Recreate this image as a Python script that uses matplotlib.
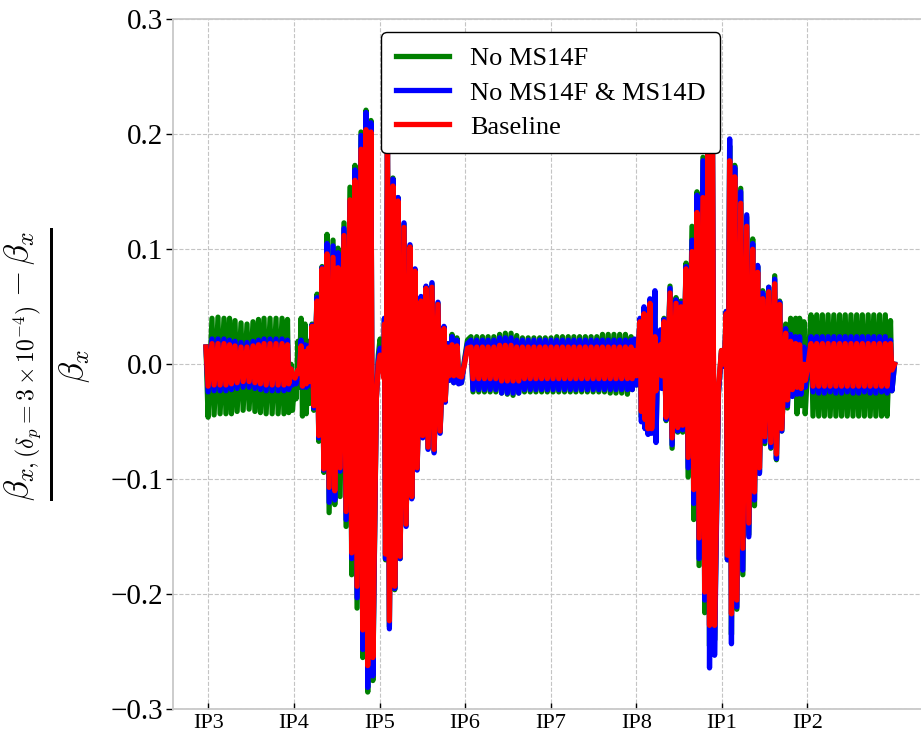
import matplotlib
matplotlib.use("Agg")
import matplotlib.pyplot as plt

plt.rcParams['font.family'] = ['Liberation Serif', 'DejaVu Serif']
plt.rcParams['mathtext.fontset'] = 'cm'

# ---------------- data (positions in units of IP spacing, IP3 = 0) ----------------
ip_labels = ['IP3', 'IP4', 'IP5', 'IP6', 'IP7', 'IP8', 'IP1', 'IP2']
ip_pos = [0, 1, 2, 3, 4, 5, 6, 7]

pos = [
    # arc IP3-IP4
    -0.027, 0.043, 0.113, 0.183, 0.248, 0.312, 0.382, 0.452, 0.522, 0.586, 0.651, 0.721, 0.791, 0.861, 0.925,
    # IP4
    0.967, 1.013, 1.048,
    # IP4-IP5
    1.084, 1.130, 1.171, 1.212, 1.270, 1.329, 1.387, 1.457, 1.515, 1.585, 1.655, 1.713, 1.784, 1.842, 1.900,
    # IP5
    1.963, 1.986, 2.007, 2.030, 2.050,
    # IP5-IP6
    2.058, 2.093, 2.157, 2.216, 2.286, 2.356, 2.415, 2.485, 2.543, 2.613, 2.683, 2.753, 2.795, 2.847, 2.905,
    # IP6
    2.958, 2.993, 3.028,
    # IP6-IP8
    3.069, 3.136, 3.203, 3.269, 3.336, 3.403, 3.470, 3.537, 3.603, 3.670, 3.737, 3.804, 3.871, 3.937, 4.004,
    4.071, 4.138, 4.205, 4.271, 4.338, 4.405, 4.472, 4.539, 4.605, 4.672, 4.739, 4.806, 4.873, 4.939,
    # IP8
    4.979,
    # IP8-IP1
    5.043, 5.090, 5.125, 5.160, 5.218, 5.253, 5.283, 5.324, 5.394, 5.464, 5.522, 5.581, 5.651, 5.709, 5.779, 5.837, 5.890,
    # IP1
    5.960, 5.995, 6.030,
    # IP1-IP2
    6.051, 6.091, 6.150, 6.220, 6.290, 6.360, 6.418, 6.477, 6.547, 6.617, 6.675, 6.745, 6.803, 6.862, 6.908,
    # IP2
    6.959, 7.000,
    # IP2-IP3
    7.041, 7.108, 7.174, 7.241, 7.308, 7.375, 7.441, 7.508, 7.575, 7.641, 7.709, 7.775, 7.842, 7.909,
    7.970, 8.017,
]

green_top = [
    0.015, 0.040, 0.041, 0.040, 0.040, 0.038, 0.036, 0.035, 0.037, 0.039, 0.040, 0.040, 0.040, 0.040, 0.039,
    0.000, -0.012, 0.020,
    0.040, 0.035, 0.020, 0.035, 0.061, 0.085, 0.113, 0.108, 0.101, 0.123, 0.154, 0.173, 0.202, 0.221, 0.212,
    -0.030, 0.008, 0.022, 0.012, -0.010,
    0.040, 0.198, 0.162, 0.145, 0.122, 0.103, 0.082, 0.058, 0.067, 0.070, 0.053, 0.032, 0.018, 0.026, 0.023,
    -0.016, 0.004, 0.021,
    0.024, 0.024, 0.024, 0.024, 0.024, 0.026, 0.027, 0.027, 0.025, 0.023, 0.023, 0.023, 0.023, 0.023, 0.023,
    0.024, 0.024, 0.024, 0.024, 0.024, 0.024, 0.024, 0.024, 0.026, 0.026, 0.026, 0.026, 0.026, 0.024,
    0.020,
    0.038, 0.046, 0.044, 0.054, 0.060, 0.018, 0.028, 0.040, 0.068, 0.058, 0.055, 0.088, 0.120, 0.150, 0.180, 0.190, 0.200,
    -0.025, 0.012, 0.000,
    0.046, 0.190, 0.173, 0.153, 0.128, 0.109, 0.085, 0.064, 0.067, 0.077, 0.055, 0.035, 0.040, 0.040, 0.040,
    0.037, -0.005,
    0.043, 0.043, 0.043, 0.043, 0.043, 0.043, 0.043, 0.043, 0.043, 0.043, 0.043, 0.043, 0.043, 0.043,
    0.038, 0.000,
]
green_bot = [
    -0.046, -0.044, -0.043, -0.043, -0.043, -0.041, -0.040, -0.039, -0.041, -0.042, -0.043, -0.043, -0.043, -0.043, -0.042,
    -0.040, -0.030, -0.020,
    -0.045, -0.043, -0.034, -0.040, -0.067, -0.094, -0.129, -0.122, -0.115, -0.141, -0.183, -0.212, -0.255, -0.285, -0.275,
    -0.030, 0.008, 0.022, 0.012, -0.010,
    -0.170, -0.228, -0.196, -0.169, -0.140, -0.116, -0.091, -0.063, -0.073, -0.076, -0.059, -0.032, -0.014, -0.016, -0.016,
    -0.016, 0.004, 0.021,
    -0.024, -0.024, -0.024, -0.024, -0.024, -0.025, -0.026, -0.027, -0.025, -0.024, -0.024, -0.024, -0.024, -0.024, -0.024,
    -0.024, -0.024, -0.024, -0.024, -0.024, -0.024, -0.024, -0.024, -0.024, -0.025, -0.025, -0.025, -0.026, -0.022,
    -0.018,
    -0.046, -0.052, -0.057, -0.058, -0.064, -0.014, -0.020, -0.049, -0.073, -0.059, -0.059, -0.098, -0.135, -0.175, -0.216, -0.245, -0.240,
    -0.025, 0.012, 0.000,
    -0.170, -0.235, -0.213, -0.183, -0.148, -0.123, -0.094, -0.069, -0.073, -0.083, -0.058, -0.038, -0.025, -0.043, -0.036,
    -0.043, -0.005,
    -0.045, -0.045, -0.045, -0.045, -0.045, -0.045, -0.045, -0.045, -0.045, -0.045, -0.045, -0.045, -0.045, -0.045,
    -0.023, 0.000,
]

blue_top = [
    0.015, 0.022, 0.022, 0.022, 0.021, 0.020, 0.019, 0.019, 0.020, 0.021, 0.022, 0.022, 0.022, 0.022, 0.021,
    -0.004, -0.014, -0.005,
    0.021, 0.017, 0.016, 0.034, 0.058, 0.084, 0.105, 0.103, 0.097, 0.118, 0.142, 0.169, 0.199, 0.219, 0.210,
    -0.030, 0.004, 0.014, 0.006, -0.010,
    0.040, 0.197, 0.161, 0.145, 0.123, 0.104, 0.083, 0.059, 0.068, 0.071, 0.054, 0.033, 0.018, 0.024, 0.021,
    -0.016, 0.002, 0.018,
    0.021, 0.021, 0.021, 0.021, 0.021, 0.023, 0.023, 0.023, 0.021, 0.021, 0.021, 0.021, 0.021, 0.021, 0.021,
    0.021, 0.021, 0.021, 0.021, 0.021, 0.021, 0.021, 0.021, 0.021, 0.021, 0.021, 0.021, 0.021, 0.021,
    0.022,
    0.040, 0.050, 0.047, 0.057, 0.064, 0.020, 0.030, 0.039, 0.066, 0.056, 0.053, 0.085, 0.108, 0.147, 0.177, 0.195, 0.205,
    -0.025, 0.010, -0.002,
    0.046, 0.196, 0.171, 0.150, 0.130, 0.105, 0.086, 0.062, 0.067, 0.074, 0.054, 0.031, 0.026, 0.024, 0.024,
    0.015, -0.005,
    0.024, 0.024, 0.024, 0.024, 0.024, 0.024, 0.024, 0.024, 0.024, 0.024, 0.024, 0.024, 0.024, 0.024,
    0.021, 0.000,
]
blue_bot = [
    -0.024, -0.023, -0.023, -0.023, -0.022, -0.021, -0.020, -0.020, -0.021, -0.022, -0.023, -0.023, -0.023, -0.023, -0.022,
    -0.018, -0.017, -0.012,
    -0.020, -0.020, -0.018, -0.038, -0.064, -0.092, -0.120, -0.118, -0.093, -0.135, -0.169, -0.203, -0.248, -0.281, -0.271,
    -0.030, 0.004, 0.014, 0.006, -0.010,
    -0.169, -0.230, -0.195, -0.169, -0.141, -0.117, -0.092, -0.064, -0.074, -0.077, -0.060, -0.033, -0.014, -0.016, -0.017,
    -0.016, 0.002, 0.018,
    -0.022, -0.022, -0.022, -0.022, -0.022, -0.025, -0.025, -0.025, -0.025, -0.022, -0.022, -0.022, -0.022, -0.022, -0.022,
    -0.022, -0.022, -0.022, -0.022, -0.022, -0.022, -0.022, -0.022, -0.022, -0.022, -0.022, -0.022, -0.022, -0.022,
    -0.018,
    -0.050, -0.056, -0.061, -0.060, -0.068, -0.015, -0.021, -0.048, -0.070, -0.058, -0.057, -0.090, -0.121, -0.169, -0.205, -0.264, -0.253,
    -0.025, 0.010, -0.002,
    -0.170, -0.243, -0.211, -0.179, -0.150, -0.118, -0.095, -0.067, -0.072, -0.082, -0.058, -0.036, -0.028, -0.026, -0.026,
    -0.020, -0.005,
    -0.024, -0.025, -0.025, -0.024, -0.025, -0.025, -0.024, -0.025, -0.025, -0.024, -0.025, -0.025, -0.024, -0.025,
    -0.023, 0.000,
]

red_top = [
    0.015, 0.018, 0.018, 0.018, 0.017, 0.016, 0.015, 0.015, 0.016, 0.017, 0.018, 0.018, 0.018, 0.018, 0.017,
    -0.004, -0.012, -0.005,
    0.016, 0.011, 0.014, 0.033, 0.055, 0.083, 0.096, 0.093, 0.084, 0.112, 0.143, 0.160, 0.187, 0.204, 0.202,
    -0.030, 0.000, 0.008, 0.001, -0.012,
    0.035, 0.193, 0.155, 0.142, 0.119, 0.102, 0.081, 0.055, 0.066, 0.067, 0.052, 0.031, 0.015, 0.017, 0.016,
    -0.011, 0.000, 0.014,
    0.015, 0.015, 0.015, 0.015, 0.015, 0.0165, 0.0165, 0.0165, 0.015, 0.015, 0.015, 0.015, 0.015, 0.015, 0.015,
    0.015, 0.015, 0.015, 0.015, 0.015, 0.015, 0.015, 0.015, 0.015, 0.015, 0.015, 0.015, 0.015, 0.015,
    0.012,
    0.037, 0.044, 0.042, 0.053, 0.024, 0.010, 0.017, 0.037, 0.062, 0.053, 0.050, 0.083, 0.098, 0.132, 0.145, 0.185, 0.200,
    -0.020, 0.012, 0.000,
    0.044, 0.177, 0.163, 0.140, 0.120, 0.100, 0.080, 0.057, 0.063, 0.070, 0.052, 0.027, 0.020, 0.018, 0.017,
    0.000, -0.004,
    0.018, 0.018, 0.018, 0.018, 0.018, 0.018, 0.018, 0.018, 0.018, 0.018, 0.018, 0.018, 0.018, 0.018,
    0.018, 0.000,
]
red_bot = [
    -0.019, -0.018, -0.018, -0.018, -0.017, -0.016, -0.015, -0.015, -0.016, -0.017, -0.018, -0.018, -0.018, -0.018, -0.017,
    -0.010, -0.012, -0.008,
    -0.019, -0.017, -0.015, -0.036, -0.062, -0.091, -0.107, -0.110, -0.090, -0.128, -0.164, -0.193, -0.231, -0.262, -0.255,
    -0.030, 0.000, 0.008, 0.001, -0.012,
    -0.165, -0.223, -0.193, -0.167, -0.139, -0.115, -0.090, -0.062, -0.072, -0.074, -0.058, -0.031, -0.010, -0.010, -0.010,
    -0.011, 0.000, 0.014,
    -0.0125, -0.0125, -0.0125, -0.0125, -0.0125, -0.0145, -0.0145, -0.0145, -0.0145, -0.0125, -0.0125, -0.0125, -0.0125, -0.0125, -0.0125,
    -0.0125, -0.0125, -0.0125, -0.0125, -0.0125, -0.0125, -0.0125, -0.0125, -0.0125, -0.0125, -0.0125, -0.0125, -0.0125, -0.0125,
    -0.010,
    -0.041, -0.048, -0.056, -0.056, -0.023, -0.005, -0.010, -0.046, -0.064, -0.055, -0.053, -0.081, -0.109, -0.151, -0.198, -0.227, -0.227,
    -0.020, 0.012, 0.000,
    -0.166, -0.217, -0.205, -0.160, -0.138, -0.111, -0.090, -0.063, -0.068, -0.078, -0.056, -0.031, -0.022, -0.020, -0.021,
    -0.014, -0.004,
    -0.019, -0.019, -0.019, -0.019, -0.019, -0.019, -0.019, -0.019, -0.019, -0.019, -0.019, -0.019, -0.019, -0.019,
    -0.005, 0.000,
]

series = [
    ('No MS14F', 'green', green_top, green_bot),
    ('No MS14F & MS14D', 'blue', blue_top, blue_bot),
    ('Baseline', 'red', red_top, red_bot),
]


def zigzag(p, top, bot):
    xs, ys = [], []
    n = len(p)
    for i in range(n):
        gap = (p[i + 1] - p[i]) if i + 1 < n else (p[i] - p[i - 1])
        xs.append(p[i]); ys.append(top[i])
        if top[i] != bot[i]:
            xs.append(p[i] + 0.35 * gap); ys.append(bot[i])
    return xs, ys


fig = plt.figure(figsize=(9.21, 7.41), dpi=100)
ax = fig.add_axes([173.3 / 921, (741 - 709.3) / 741, (928 - 173.3) / 921, 690 / 741])

for label, color, top, bot in series:
    xs, ys = zigzag(pos, top, bot)
    ax.plot(xs, ys, color=color, lw=3.8, label=label, solid_joinstyle='round')

ax.set_xlim(-0.409, 8.408)
ax.set_ylim(-0.3, 0.3)
ax.set_xticks(ip_pos)
ax.set_xticklabels(ip_labels, fontsize=16)
ax.set_yticks([-0.3, -0.2, -0.1, 0.0, 0.1, 0.2, 0.3])
ax.set_yticklabels(['\u22120.3', '\u22120.2', '\u22120.1', '0.0', '0.1', '0.2', '0.3'], fontsize=21)

ax.grid(True, color='#c4c4c4', linestyle='--', linewidth=0.8)
ax.set_axisbelow(True)
for sp in ax.spines.values():
    sp.set_color('#c8c8c8')
    sp.set_linewidth(1.3)

ax.tick_params(axis='y', direction='out', length=5, width=1.0, color='black', pad=2.5)
ax.tick_params(axis='x', direction='in', length=4.5, width=1.0, color='black', pad=3.5)

ax.set_ylabel(r'$\frac{\beta_{x,(\delta_p=3\times10^{-4})}-\beta_x}{\beta_x}$', fontsize=35)
ax.yaxis.set_label_coords((93 - 173.3) / 754.7, 0.5)

leg = ax.legend(loc='upper center', fontsize=19, frameon=True, fancybox=True,
                edgecolor='black', framealpha=1.0, labelspacing=0.4, borderpad=0.55)
leg.get_frame().set_linewidth(1.0)

fig.savefig('out.png', dpi=100)
